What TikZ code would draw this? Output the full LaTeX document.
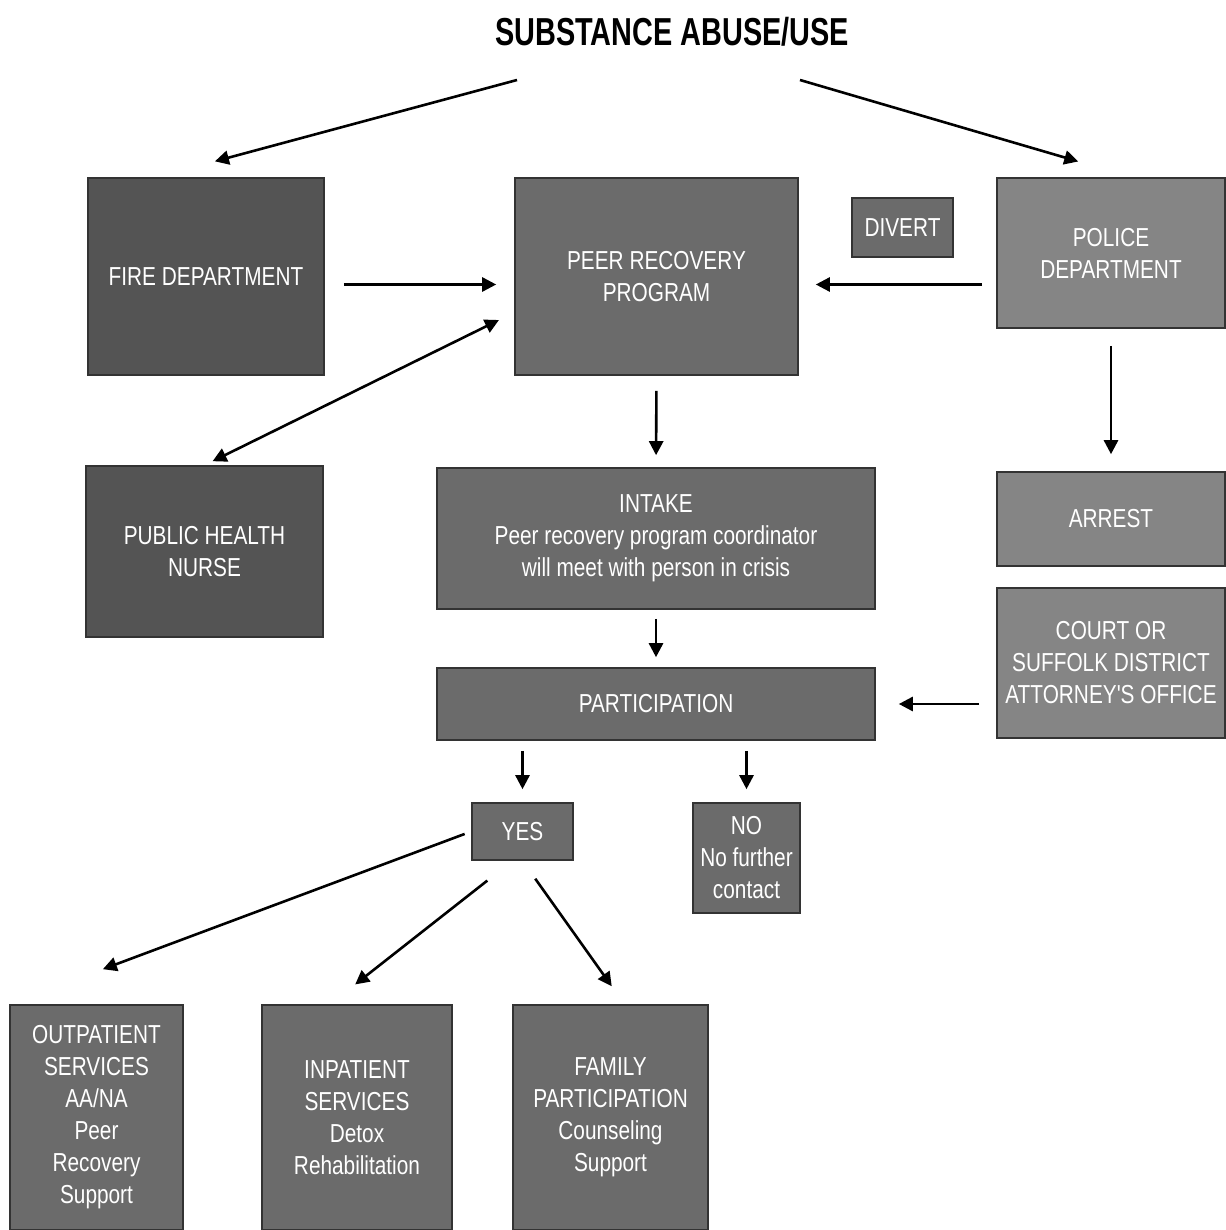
\documentclass[tikz,border=0pt]{standalone}
\usepackage{fontspec}
\setmainfont{Liberation Sans}
\newfontfamily\boxfont[FakeStretch=0.8]{Liberation Sans}
\newfontfamily\headfont[FakeStretch=0.74]{Liberation Sans}
\usetikzlibrary{arrows.meta,positioning}
\definecolor{boxdark}{gray}{0.33}
\definecolor{boxmid}{gray}{0.42}
\definecolor{boxlight}{gray}{0.52}
\tikzset{
  >={Triangle[length=7pt,width=7pt]},
  box/.style = {rectangle, draw=black!80, line width=0.8pt, fill=boxmid, text=white,
                font=\boxfont\fontsize{13}{16}\selectfont, align=center, inner sep=2pt},
  flow/.style = {->, line width=1.3pt},
}

\begin{document}
\begin{tikzpicture}[x=0.5pt,y=-0.5pt]
  \useasboundingbox (0,0) rectangle (1225,1230);

  \node[font=\headfont\bfseries\fontsize{19.5}{22}\selectfont] (title) at (672,32) {SUBSTANCE ABUSE/USE};
  \coordinate (titleL) at (517,80);
  \coordinate (titleR) at (800,80);

  % top row
  \node[box, fill=boxdark, minimum width=118pt, minimum height=98.5pt] (fire) at (206,276.5) {FIRE DEPARTMENT};
  \node[box, minimum width=141.5pt, minimum height=98.5pt] (peer) at (656.5,276.5) {PEER RECOVERY\\PROGRAM};
  \node[box, minimum width=50.5pt, minimum height=29.5pt] (divert) at (902.5,227.5) {DIVERT};
  \node[box, fill=boxlight, minimum width=114pt, minimum height=75pt] (police) at (1111,253) {POLICE\\DEPARTMENT};
  \coordinate (peerL) at ([yshift=-4pt]peer.west);
  \coordinate (peerR) at ([yshift=-4pt]peer.east);

  % middle
  \node[box, fill=boxdark, minimum width=118.5pt, minimum height=85.5pt] (nurse) at (204.5,551.5) {PUBLIC HEALTH\\NURSE};
  \node[box, minimum width=219pt, minimum height=70.5pt] (intake) at (656,538.5) {INTAKE\\Peer recovery program coordinator\\will meet with person in crisis};
  \node[box, fill=boxlight, minimum width=114pt, minimum height=47pt] (arrest) at (1111,519) {ARREST};
  \node[box, fill=boxlight, minimum width=114pt, minimum height=75pt] (court) at (1111,663) {COURT OR\\SUFFOLK DISTRICT\\ATTORNEY'S OFFICE};
  \node[box, minimum width=219pt, minimum height=36pt] (particip) at (656,704) {PARTICIPATION};
  \node[box, minimum width=50.5pt, minimum height=28.5pt] (yes) at (522.5,831.5) {YES};
  \node[box, minimum width=53.5pt, minimum height=55pt] (no) at (746.5,858) {NO\\No further\\contact};

  % services
  \node[box, minimum width=86.5pt, minimum height=112.5pt] (outpat) at (96.5,1117.5) {OUTPATIENT\\SERVICES\\AA/NA\\Peer\\Recovery\\Support};
  \node[box, minimum width=95pt, minimum height=112.5pt] (inpat) at (357,1117.5) {INPATIENT\\SERVICES\\Detox\\Rehabilitation};
  \node[box, minimum width=97.5pt, minimum height=112.5pt] (family) at (610.5,1117.5) {FAMILY\\PARTICIPATION\\Counseling\\Support};

  % connectors
  \draw[flow, shorten >=30.5pt] (titleL) -- ([xshift=-25pt]fire.north);
  \draw[flow, shorten >=28pt] (titleR) -- ([xshift=10.5pt]police.north);
  \draw[flow, shorten <=9.5pt, shorten >=9pt] (peerL -| fire.east) -- (peerL);
  \draw[flow, shorten <=7pt, shorten >=8.5pt] (peerR -| police.west) -- (peerR);
  \draw[flow, <->, shorten <=4.5pt, shorten >=8.5pt] (nurse.north) -- ([yshift=-18pt]peer.west);
  \draw[flow, shorten <=7.5pt, shorten >=6pt] (peer.south) -- (intake.north);
  \draw[flow, shorten <=8.5pt, shorten >=8.5pt] (police.south) -- (arrest.north);
  \draw[flow, shorten <=4.5pt, shorten >=5pt] (intake.south) -- (particip.north);
  \draw[flow, shorten <=8.5pt, shorten >=11.5pt] (particip.east -| court.west) -- (particip.east);
  \draw[flow, shorten <=5pt, shorten >=6.5pt] (particip.south -| yes.north) -- (yes.north);
  \draw[flow, shorten <=5pt, shorten >=6.5pt] (particip.south -| no.north) -- (no.north);
  \draw[flow, shorten <=3.5pt, shorten >=50pt] (yes.west) -- (outpat.north west);
  \draw[flow, shorten <=16pt, shorten >=16pt] ([xshift=-5pt]yes.south) -- ([xshift=-13.5pt]inpat.north);
  \draw[flow, shorten <=11pt, shorten >=11pt] (yes.south) -- ([xshift=7pt]family.north);
\end{tikzpicture}
\end{document}
